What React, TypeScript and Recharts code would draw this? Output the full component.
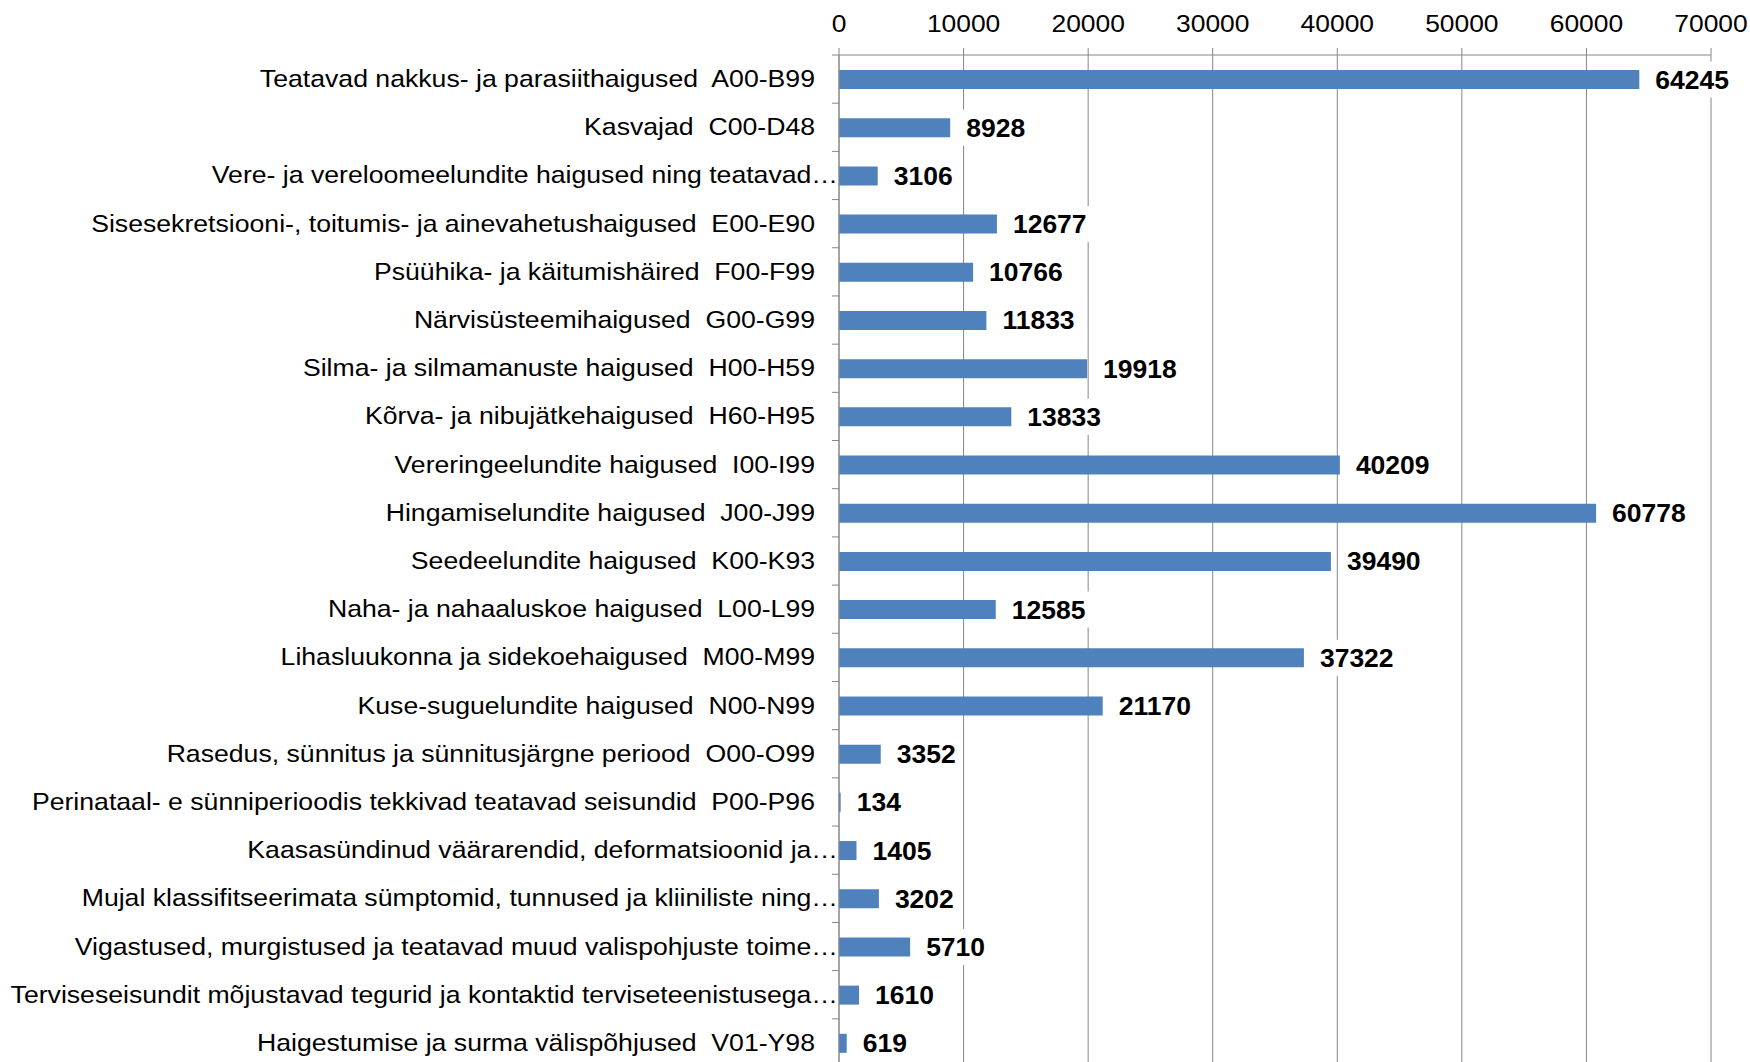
import { BarChart, Bar, XAxis, YAxis, CartesianGrid, LabelList } from 'recharts';

const categories = [
  'Teatavad nakkus- ja parasiithaigused  A00-B99',
  'Kasvajad  C00-D48',
  'Vere- ja vereloomeelundite haigused ning teatavad…',
  'Sisesekretsiooni-, toitumis- ja ainevahetushaigused  E00-E90',
  'Psüühika- ja käitumishäired  F00-F99',
  'Närvisüsteemihaigused  G00-G99',
  'Silma- ja silmamanuste haigused  H00-H59',
  'Kõrva- ja nibujätkehaigused  H60-H95',
  'Vereringeelundite haigused  I00-I99',
  'Hingamiselundite haigused  J00-J99',
  'Seedeelundite haigused  K00-K93',
  'Naha- ja nahaaluskoe haigused  L00-L99',
  'Lihasluukonna ja sidekoehaigused  M00-M99',
  'Kuse-suguelundite haigused  N00-N99',
  'Rasedus, sünnitus ja sünnitusjärgne periood  O00-O99',
  'Perinataal- e sünniperioodis tekkivad teatavad seisundid  P00-P96',
  'Kaasasündinud väärarendid, deformatsioonid ja…',
  'Mujal klassifitseerimata sümptomid, tunnused ja kliiniliste ning…',
  'Vigastused, murgistused ja teatavad muud valispohjuste toime…',
  'Terviseseisundit mõjustavad tegurid ja kontaktid terviseteenistusega…',
  'Haigestumise ja surma välispõhjused  V01-Y98',
];

const cases = [
  64245, 8928, 3106, 12677, 10766, 11833, 19918, 13833, 40209, 60778, 39490,
  12585, 37322, 21170, 3352, 134, 1405, 3202, 5710, 1610, 619,
];

const xTicks = [0, 10000, 20000, 30000, 40000, 50000, 60000, 70000];

const data = categories.map((name, i) => ({ name, value: cases[i] }));

const W = 1750;
const H = 1067;
const TOP = 55;
const LEFT = 839;
const RIGHT = 39;
const BAND = (H - TOP) / categories.length;
const FONT = '"Liberation Sans", Arial, sans-serif';
const GRID = '#868686';

// the reference text is a bit wider than it is tall, so stretch it sideways
const YTick = (props: any) => {
  const { y, payload } = props;
  const label: string = payload.value;
  const truncated = label.endsWith('…');
  const tx = truncated ? LEFT - 1 : LEFT - 24;
  return (
    <g>
      <line x1={LEFT - 7} x2={LEFT} y1={y - BAND / 2} y2={y - BAND / 2} stroke={GRID} />
      <text
        transform={`translate(${tx},${y + 8}) scale(1.11,1)`}
        textAnchor="end"
        fontSize={24}
        fontFamily={FONT}
        fill="#000"
        style={{ whiteSpace: 'pre' }}
      >
        {label}
      </text>
    </g>
  );
};

const XTick = (props: any) => {
  const { x, payload } = props;
  return (
    <text
      transform={`translate(${x},32) scale(1.1,1)`}
      textAnchor="middle"
      fontSize={24}
      fontFamily={FONT}
      fill="#000"
    >
      {payload.value}
    </text>
  );
};

const ValueLabel = (props: any) => {
  const { x, y, width, height, value } = props;
  const tx = x + width + 16;
  const cy = y + height / 2;
  const tw = String(value).length * 0.556 * 25 * 1.06;
  return (
    <g>
      <rect x={tx - 5} y={cy - 18} width={tw + 12} height={36} fill="#fff" />
      <text
        transform={`translate(${tx},${cy + 9}) scale(1.06,1)`}
        fontSize={25}
        fontWeight="bold"
        fontFamily={FONT}
        fill="#000"
      >
        {value}
      </text>
    </g>
  );
};

export default function App() {
  return (
    <div style={{ position: 'absolute', left: 0, top: 0, width: W, height: 1062, overflow: 'hidden', background: '#fff' }}>
      <BarChart
        width={W}
        height={H}
        data={data}
        layout="vertical"
        margin={{ top: 0, right: RIGHT, bottom: 0, left: 0 }}
        barSize={19}
      >
        <CartesianGrid horizontal={false} stroke={GRID} />
        <XAxis
          type="number"
          orientation="top"
          domain={[0, 70000]}
          ticks={xTicks}
          height={TOP}
          tickSize={7}
          stroke={GRID}
          tick={<XTick />}
          interval={0}
        />
        <YAxis
          type="category"
          dataKey="name"
          width={LEFT}
          tickLine={false}
          stroke={GRID}
          tick={<YTick />}
          interval={0}
        />
        <Bar dataKey="value" fill="#4f81bd" isAnimationActive={false}>
          <LabelList dataKey="value" content={<ValueLabel />} />
        </Bar>
      </BarChart>
    </div>
  );
}
